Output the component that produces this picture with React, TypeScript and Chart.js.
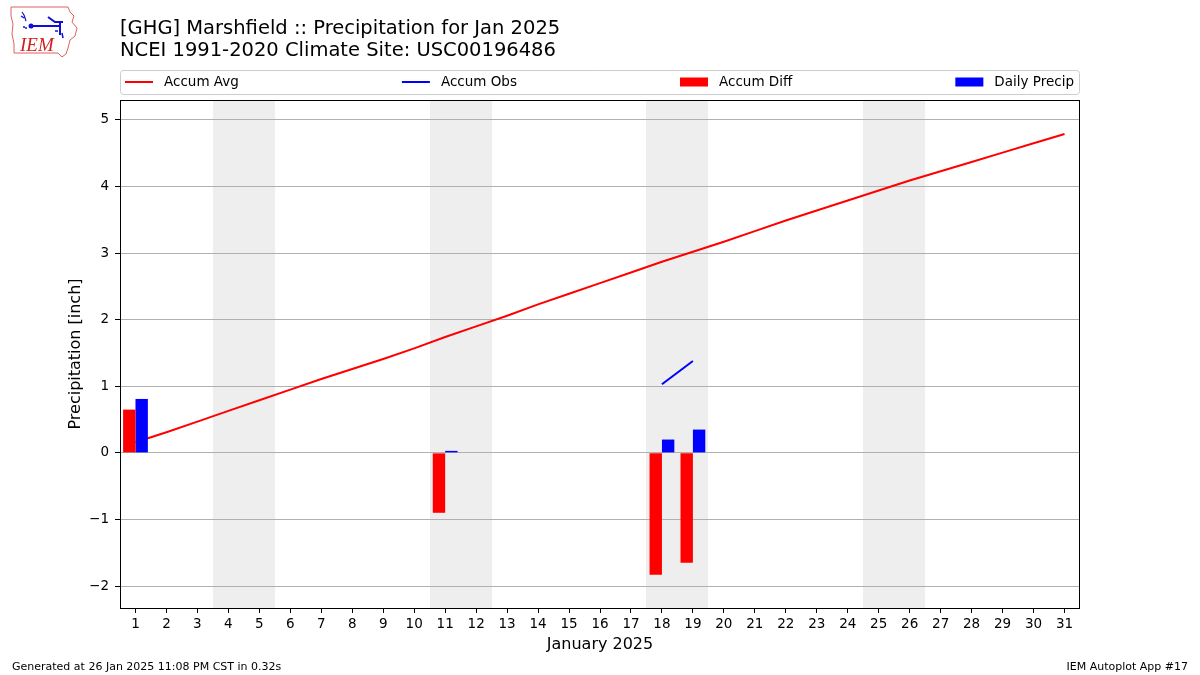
import React, { useEffect, useRef } from "react";
import { Chart, registerables } from "chart.js";

Chart.register(...registerables);

const dayLabels = ["1","2","3","4","5","6","7","8","9","10","11","12","13","14","15","16","17","18","19","20","21","22","23","24","25","26","27","28","29","30","31"];
const accumAvg = [0.16,0.31,0.47,0.63,0.79,0.95,1.11,1.26,1.41,1.57,1.74,1.90,2.06,2.23,2.39,2.55,2.71,2.87,3.02,3.17,3.33,3.49,3.64,3.79,3.94,4.09,4.23,4.37,4.51,4.65,4.79];
const accumObs = [0.81,null,null,null,null,null,null,null,null,null,0.84,null,null,null,null,null,null,1.03,1.38,null,null,null,null,null,null,null,null,null,null,null,null];
const accumDiff = [0.65,null,null,null,null,null,null,null,null,null,-0.90,null,null,null,null,null,null,-1.83,-1.65,null,null,null,null,null,null,null,null,null,null,null,null];
const dailyPrecip = [0.81,null,null,null,null,null,null,null,null,null,0.03,null,null,null,null,null,null,0.20,0.35,null,null,null,null,null,null,null,null,null,null,null,null];
const weekendDays = [4,5,11,12,18,19,25,26];
const yTickValues = [-2,-1,0,1,2,3,4,5];

const FONT = "'DejaVu Sans', sans-serif";

const bandsPlugin = {
  id: "weekendBands",
  beforeDraw(chart: any) {
    const { ctx, chartArea, scales } = chart;
    const x = scales.x;
    ctx.save();
    ctx.fillStyle = "#eeeeee";
    const half = (x.getPixelForValue(1) - x.getPixelForValue(0)) / 2;
    // merge consecutive days into single spans
    const spans: [number, number][] = [];
    for (const d of weekendDays) {
      const last = spans[spans.length - 1];
      if (last && last[1] === d - 1) last[1] = d;
      else spans.push([d, d]);
    }
    for (const [a, b] of spans) {
      const x0 = Math.round(x.getPixelForValue(a - 1) - half);
      const x1 = Math.round(x.getPixelForValue(b - 1) + half);
      ctx.fillRect(x0, chartArea.top, x1 - x0, chartArea.bottom - chartArea.top);
    }
    ctx.restore();
  },
};

const framePlugin = {
  id: "frameLegend",
  afterDraw(chart: any) {
    const { ctx, chartArea } = chart;
    ctx.save();
    ctx.strokeStyle = "#000";
    ctx.lineWidth = 1;
    ctx.strokeRect(
      Math.round(chartArea.left) + 0.5,
      Math.round(chartArea.top) + 0.5,
      Math.round(chartArea.right - chartArea.left) - 1,
      Math.round(chartArea.bottom - chartArea.top)
    );

    // legend
    const left = chartArea.left;
    const right = chartArea.right;
    const top = 70;
    const bottom = 95;
    const r = 3;
    ctx.beginPath();
    ctx.moveTo(left + r, top + 0.5);
    ctx.arcTo(right - 0.5, top + 0.5, right - 0.5, bottom, r);
    ctx.arcTo(right - 0.5, bottom - 0.5, left, bottom - 0.5, r);
    ctx.arcTo(left + 0.5, bottom - 0.5, left + 0.5, top, r);
    ctx.arcTo(left + 0.5, top + 0.5, right, top + 0.5, r);
    ctx.closePath();
    ctx.fillStyle = "rgba(255,255,255,0.8)";
    ctx.fill();
    ctx.strokeStyle = "#cccccc";
    ctx.stroke();

    ctx.font = `13.5px ${FONT}`;
    ctx.textBaseline = "middle";
    const order = [2, 3, 0, 1];
    const items = order.map((i) => chart.data.datasets[i]);
    const handle = 28;
    const gapText = 11;
    const widths = items.map((ds: any) => handle + gapText + ctx.measureText(ds.label).width);
    const x0 = left + 5;
    const x1 = right - 6;
    const total = widths.reduce((a: number, b: number) => a + b, 0);
    const gap = (x1 - x0 - total) / (items.length - 1);
    const cy = (top + bottom) / 2 - 0.5;
    let x = x0;
    items.forEach((ds: any, k: number) => {
      if (ds.type === "line") {
        ctx.strokeStyle = ds.borderColor;
        ctx.lineWidth = 2;
        ctx.beginPath();
        ctx.moveTo(x, cy);
        ctx.lineTo(x + handle, cy);
        ctx.stroke();
      } else {
        ctx.fillStyle = ds.backgroundColor;
        ctx.fillRect(x, cy - 4.5, handle, 9);
      }
      ctx.fillStyle = "#000";
      ctx.fillText(ds.label, x + handle + gapText, cy);
      x += widths[k] + gap;
    });
    ctx.restore();
  },
};

function Logo() {
  return (
    <svg width="72" height="56" viewBox="0 0 72 56" style={{ position: "absolute", left: 8, top: 4 }}>
      <path
        d="M3 3 L60 3 L62 8 L66 12 L64 18 L69 24 L67 32 L62 36 L60 44 L58 50 L54 53 L50 49 L6 49 L6 40 L4 30 L5 20 L3 12 Z"
        fill="#fff"
        stroke="#e06060"
        strokeWidth="1"
      />
      <path d="M14 8 L16 11 M13 12 L16 14 M16 11 L18 17" stroke="#1010d0" strokeWidth="1.2" fill="none" />
      <circle cx="23" cy="22" r="2.5" fill="#1010d0" />
      <path d="M23 22 L52 22 M52 17 L52 31 M40 13 L47 18 L55 18" stroke="#1010d0" strokeWidth="2" fill="none" />
      <path d="M47 27 L50 27 M54 29 L55 34" stroke="#1010d0" strokeWidth="1.5" fill="none" />
      <circle cx="16" cy="23" r="1" fill="#1010d0" />
      <circle cx="18" cy="24" r="1" fill="#1010d0" />
      <text x="12" y="47" fill="#d02020" fontFamily="'Liberation Serif', serif" fontStyle="italic" fontSize="19">IEM</text>
    </svg>
  );
}

export default function App() {
  const ref = useRef<HTMLCanvasElement | null>(null);

  useEffect(() => {
    if (!ref.current) return;
    const chart = new Chart(ref.current, {
      type: "bar",
      data: {
        labels: dayLabels,
        datasets: [
          {
            type: "bar",
            label: "Accum Diff",
            data: accumDiff,
            backgroundColor: "#ff0000",
            borderWidth: 0,
            categoryPercentage: 0.8,
            barPercentage: 1.0,
            order: 0,
          } as any,
          {
            type: "bar",
            label: "Daily Precip",
            data: dailyPrecip,
            backgroundColor: "#0000ff",
            borderWidth: 0,
            categoryPercentage: 0.8,
            barPercentage: 1.0,
            order: 0,
          } as any,
          {
            type: "line",
            label: "Accum Avg",
            data: accumAvg,
            borderColor: "#ff0000",
            backgroundColor: "#ff0000",
            borderWidth: 2,
            pointRadius: 0,
            tension: 0,
            order: 1,
          } as any,
          {
            type: "line",
            label: "Accum Obs",
            data: accumObs,
            borderColor: "#0000ff",
            backgroundColor: "#0000ff",
            borderWidth: 2,
            pointRadius: 0,
            tension: 0,
            spanGaps: false,
            order: 1,
          } as any,
        ],
      },
      options: {
        responsive: false,
        animation: false,
        events: [],
        layout: { padding: { left: 0, right: 120, top: 100, bottom: 0 } },
        plugins: {
          legend: { display: false },
          tooltip: { enabled: false },
          title: { display: false },
        },
        scales: {
          x: {
            type: "category",
            offset: true,
            grid: {
              display: true,
              drawOnChartArea: false,
              offset: false,
              tickLength: 5,
              tickColor: "#000",
            },
            border: { display: false },
            ticks: {
              color: "#000",
              font: { family: FONT, size: 13.5 },
              padding: 3,
              maxRotation: 0,
              autoSkip: false,
            },
            title: {
              display: true,
              text: "January 2025",
              color: "#000",
              font: { family: FONT, size: 16 },
              padding: { top: 0, bottom: 21 },
            },
            afterFit: (scale: any) => {
              scale.height = 67;
            },
          },
          y: {
            type: "linear",
            min: -2.33,
            max: 5.3,
            grid: {
              color: "#b0b0b0",
              lineWidth: 1,
              tickLength: 5,
              tickColor: "#000",
            },
            border: { display: false },
            afterBuildTicks: (scale: any) => {
              scale.ticks = yTickValues.map((v) => ({ value: v }));
            },
            ticks: {
              color: "#000",
              font: { family: FONT, size: 13.5 },
              padding: 6,
              callback: (v: any) => (Number(v) < 0 ? "\u2212" + Math.abs(Number(v)) : String(v)),
            },
            title: {
              display: true,
              text: "Precipitation [inch]",
              color: "#000",
              font: { family: FONT, size: 16 },
              padding: { top: 66, bottom: 0 },
            },
            afterFit: (scale: any) => {
              scale.width = 120;
            },
          },
        },
      } as any,
      plugins: [bandsPlugin, framePlugin],
    });
    return () => chart.destroy();
  }, []);

  return (
    <div style={{ position: "fixed", left: 0, top: 0, width: 1200, height: 675, background: "#fff", fontFamily: FONT }}>
      <canvas ref={ref} width={1200} height={675} style={{ position: "absolute", left: 0, top: 0 }} />
      <Logo />
      <div style={{ position: "absolute", left: 120, top: 17, fontSize: 19.5, lineHeight: "22px", color: "#000", whiteSpace: "pre" }}>
        {"[GHG] Marshfield :: Precipitation for Jan 2025\nNCEI 1991-2020 Climate Site: USC00196486"}
      </div>
      <div style={{ position: "absolute", left: 12, top: 660, fontSize: 11, color: "#000" }}>
        Generated at 26 Jan 2025 11:08 PM CST in 0.32s
      </div>
      <div style={{ position: "absolute", right: 12, top: 660, fontSize: 11, color: "#000" }}>
        IEM Autoplot App #17
      </div>
    </div>
  );
}
